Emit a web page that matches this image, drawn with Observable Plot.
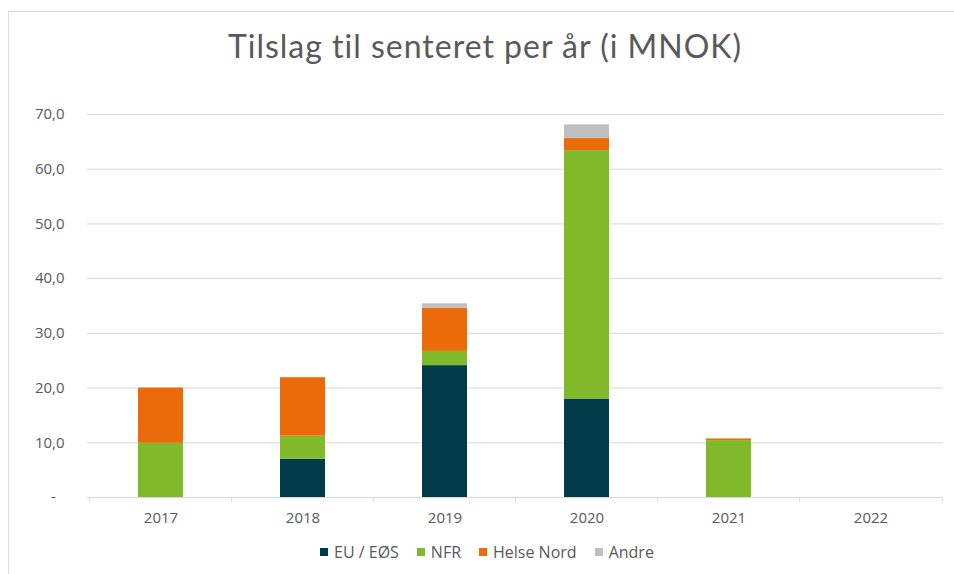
<!DOCTYPE html>
<html>
<head>
<meta charset="utf-8">
<script src="https://cdn.jsdelivr.net/npm/d3@7"></script>
<script src="https://cdn.jsdelivr.net/npm/@observablehq/plot@0.6"></script>
<style>
  html, body { margin: 0; padding: 0; background: #fff; }
  #wrap { position: relative; width: 954px; height: 574px; overflow: hidden; background: #fff; }
  #frame { position: absolute; left: 8px; top: 11px; width: 1000px; height: 700px;
           border-left: 1px solid #d9d9d9; border-top: 1px solid #d9d9d9; }
  #title { position: absolute; left: 0; width: 970px; top: 26px; text-align: center;
           font-family: Lato, sans-serif; font-size: 32px; color: #595959; letter-spacing: 1px; }
  #chart { position: absolute; left: 0; top: 90px; }
  #legend { position: absolute; top: 541px; left: 320px; display: flex; gap: 18px;
            font-family: "Open Sans", sans-serif; font-size: 16px; color: #595959; }
  #legend .item { display: flex; align-items: center; gap: 6px; }
  #legend .sw { width: 8px; height: 8px; display: inline-block; }
</style>
</head>
<body>
<div id="wrap">
  <div id="frame"></div>
  <div id="title">Tilslag til senteret per år (i MNOK)</div>
  <div id="chart"></div>
  <div id="legend"></div>
</div>
<script>
const years = ["2017", "2018", "2019", "2020", "2021", "2022"];
const seriesNames = ["EU / EØS", "NFR", "Helse Nord", "Andre"];
const seriesColors = ["#013b4a", "#80b929", "#eb6a0a", "#bfbfbf"];
const euEos = [0, 7.0, 24.1, 18.0, 0, 0];
const nfr = [9.9, 4.2, 2.6, 45.4, 10.4, 0];
const helseNord = [10.1, 10.7, 7.9, 2.2, 0.3, 0];
const andre = [0, 0, 0.8, 2.5, 0, 0];
const yTicks = [0, 10, 20, 30, 40, 50, 60, 70];

const seriesValues = [euEos, nfr, helseNord, andre];
const data = years.flatMap((yr, i) =>
  seriesNames.map((name, s) => ({ year: yr, source: name, value: seriesValues[s][i] }))
);

const W = 954, H = 440, mL = 87, mR = 11, mT = 24, mB = 33;
const step = (W - mL - mR) / years.length;
const boundaries = years.map((y) => ({ year: y, dx: -step / 2 }))
  .concat([{ year: years[years.length - 1], dx: step / 2 }]);

const fmt = (d) => d === 0 ? "-\u2007" : d.toFixed(1).replace(".", ",");

const chart = Plot.plot({
  width: W, height: H,
  marginLeft: mL, marginRight: mR, marginTop: mT, marginBottom: mB,
  style: { fontFamily: "'Open Sans', sans-serif", fontSize: "15px", color: "#595959", background: "transparent" },
  x: { domain: years, paddingInner: 0.685, paddingOuter: 0.3425, label: null },
  y: { domain: [0, 70], label: null },
  color: { domain: seriesNames, range: seriesColors },
  marks: [
    Plot.gridY(yTicks, { stroke: "#d9d9d9", strokeOpacity: 1, strokeWidth: 1 }),
    Plot.ruleY([0], { stroke: "#d9d9d9", strokeWidth: 1 }),
    ...boundaries.map((b) => Plot.ruleX([b], { x: "year", y1: 0, y2: -0.85, dx: b.dx, stroke: "#d9d9d9" })),
    Plot.barY(data, Plot.stackY({ x: "year", y: "value", fill: "source", order: seriesNames })),
    Plot.axisY(yTicks, { tickSize: 0, tickPadding: 23, tickFormat: fmt, fill: "#595959", fontSize: 15 }),
    Plot.axisX({ tickSize: 0, tickPadding: 15, fill: "#595959", fontSize: 15 })
  ]
});
document.getElementById("chart").appendChild(chart);

const legend = document.getElementById("legend");
seriesNames.forEach((name, i) => {
  const item = document.createElement("span");
  item.className = "item";
  const sw = document.createElement("span");
  sw.className = "sw";
  sw.style.background = seriesColors[i];
  const tx = document.createElement("span");
  tx.textContent = name;
  item.appendChild(sw);
  item.appendChild(tx);
  legend.appendChild(item);
});
</script>
</body>
</html>
